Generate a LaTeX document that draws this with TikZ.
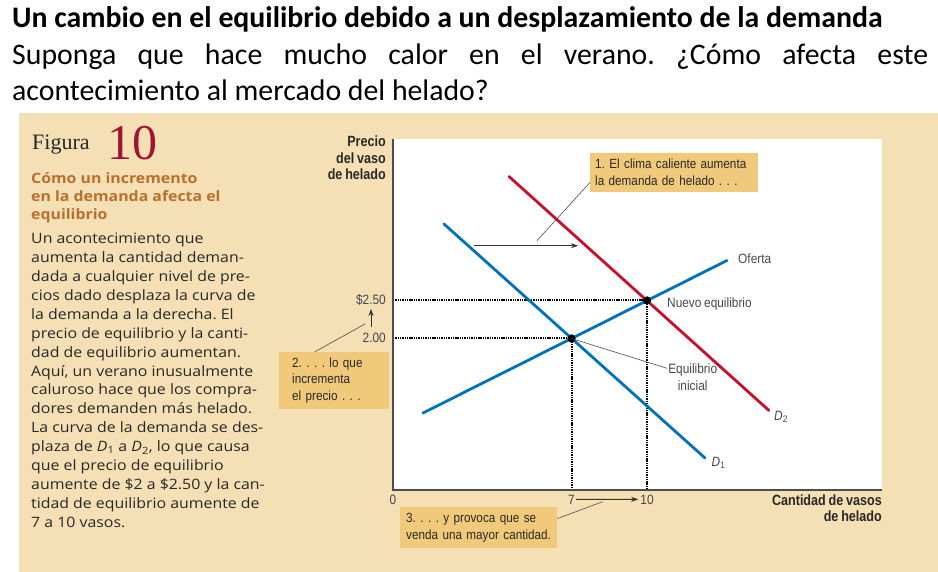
\documentclass[tikz,border=0pt]{standalone}
\usepackage{fontspec}
\setmainfont{Open Sans}[FakeStretch=1.11]
\newfontfamily\titlefont{Carlito}
\newfontfamily\serffont{Liberation Serif}
\newfontfamily\condfont{Liberation Sans}[FakeStretch=0.88, WordSpace=0.8]
\newfontfamily\condbold{Liberation Sans Bold}[FakeStretch=0.85, WordSpace=0.8]
\usetikzlibrary{arrows.meta, positioning}
\definecolor{panelbg}{RGB}{245,223,181}
\definecolor{callbg}{RGB}{240,201,122}
\definecolor{demblue}{RGB}{0,114,188}
\definecolor{demred}{RGB}{200,16,46}
\definecolor{figred}{RGB}{160,20,50}
\definecolor{headbrown}{RGB}{184,112,44}
\definecolor{txtgray}{RGB}{40,40,40}
\definecolor{lblgray}{RGB}{70,70,80}
\tikzset{
      txt/.style      = {anchor=base west, inner sep=0pt},
      titletxt/.style = {txt, font=\titlefont\fontsize{29.8}{33}\selectfont},
      bodytxt/.style  = {txt, align=left, text=txtgray,
                         font=\fontsize{14.3}{18.95}\selectfont},
      lbl/.style      = {inner sep=0pt, text=lblgray,
                         font=\condfont\fontsize{13.5}{16.7}\selectfont},
      axlbl/.style    = {lbl, anchor=base east, align=right, text=txtgray,
                         font=\condbold\fontsize{14.8}{16.7}\selectfont},
      callout/.style  = {fill=callbg, anchor=north west, align=left,
                         inner xsep=5pt, inner ysep=0pt, text=txtgray,
                         font=\condfont\fontsize{13.3}{16.7}\selectfont},
      curve/.style    = {line width=2.8pt, line cap=round},
      guide/.style    = {line width=2pt, dash pattern=on 1.4pt off 0.9pt},
      leader/.style   = {draw=black!70, line width=0.6pt},
      shiftarrow/.style = {draw=black!80, line width=0.8pt, -{Stealth[length=7pt,width=5pt]}},
      eqdot/.style    = {circle, fill=black, inner sep=0pt, minimum size=8pt}
    }
\begin{document}
\frenchspacing
\begin{tikzpicture}[x=1pt,y=-1pt]
  \useasboundingbox (0,0) rectangle (938,572);
  % Title and question
  \node[titletxt, font=\titlefont\bfseries\fontsize{29.8}{33}\selectfont] (ttl) at (12,28)
    {Un cambio en el equilibrio debido a un desplazamiento de la demanda};
  \node[titletxt] (qa) at (12,65)
    {\makebox[916pt][s]{Suponga que hace mucho calor en el verano. ¿Cómo afecta este}};
  \node[titletxt] (qb) at (12,101) {acontecimiento al mercado del helado?};
  % Panel and plot area
  \fill[panelbg] (19,113) rectangle (938,572);
  \fill[white] (393,139) rectangle (882,490);
  % Left column
  \node[txt, font=\serffont\fontsize{22}{22}\selectfont, text=txtgray] (figword) at (32,149.3) {Figura};
  \node[txt, font=\serffont\fontsize{50}{50}\selectfont, text=figred] (fignum) at (107,159.3) {10};
  \node[bodytxt, text=headbrown, font=\bfseries\fontsize{14.3}{18.2}\selectfont] (head) at (31,220)
    {Cómo un incremento\\en la demanda afecta el\\equilibrio};
  \node[bodytxt] (body) at (31,527.6)
    {Un acontecimiento que\\
     aumenta la cantidad deman-\\
     dada a cualquier nivel de pre-\\
     cios dado desplaza la curva de\\
     la demanda a la derecha. El\\
     precio de equilibrio y la canti-\\
     dad de equilibrio aumentan.\\
     Aquí, un verano inusualmente\\
     caluroso hace que los compra-\\
     dores demanden más helado.\\
     La curva de la demanda se des-\\
     plaza de \textit{D}\textsubscript{1} a \textit{D}\textsubscript{2}, lo que causa\\
     que el precio de equilibrio\\
     aumente de \$2 a \$2.50 y la can-\\
     tidad de equilibrio aumente de\\
     7 a 10 vasos.};
  % Equilibrium points
  \node[eqdot] (eqA) at (571.5,338.5) {};
  \node[eqdot] (eqB) at (647,300.5) {};
  \coordinate (pA) at (393,338.5);
  \coordinate (pB) at (393,300.5);
  \coordinate (qA) at (571.5,490);
  \coordinate (qB) at (647,490);
  % Dotted guides
  \draw[guide] (pB) -- (eqB.center) -- (qB);
  \draw[guide] (pA) -- (eqA.center) -- (qA);
  % Curves
  \draw[curve, demblue] (444,224) -- (705,458);
  \draw[curve, demred] (509,176.5) -- (769,410.5);
  \draw[curve, demblue] (423,413) -- (727,260.5);
  \node[eqdot] at (eqA) {};
  \node[eqdot] at (eqB) {};
  % Axes
  \draw[black!70, line width=1.4pt] (393,139) -- (393,490) -- (882,490);
  % Axis labels
  \node[axlbl] (ylab) at (386,180) {Precio\\del vaso\\de helado};
  \node[axlbl] (xlab) at (882,521.7) {Cantidad de vasos\\de helado};
  \node[lbl, anchor=base east] (p250) at (386,304.3) {\$2.50};
  \node[lbl, anchor=base east] (p200) at (386,342.7) {2.00};
  \node[lbl, anchor=base] (q0) at (393,504) {0};
  \node[lbl, anchor=base] (q7) at (571.5,504) {7};
  \node[lbl, anchor=base] (q10) at (647,504) {10};
  % Curve labels
  \node[lbl, anchor=base west] (oferta) at (738,264) {Oferta};
  \node[lbl, anchor=base west] (nuevo) at (667,308) {Nuevo equilibrio};
  \node[lbl, anchor=base west] (dtwo) at (774,420.7) {\textit{D}\textsubscript{2}};
  \node[lbl, anchor=base west] (done) at (711.5,466) {\textit{D}\textsubscript{1}};
  \node[lbl, align=center, anchor=base] (inicial) at (692.7,390) {Equilibrio\\inicial};
  % Callouts
  \node[callout, minimum width=168pt, minimum height=39pt, text width=158pt] (box1) at (590,152.7)
    {1. El clima caliente aumenta\\la demanda de helado . . .};
  \node[callout, inner xsep=13pt, minimum width=110pt, minimum height=57.3pt, text width=84pt] (box2) at (279,351.7)
    {2. . . . lo que\\incrementa\\el precio . . .};
  \node[callout, inner xsep=6pt, minimum width=157pt, minimum height=40.7pt, text width=145pt] (box3) at (400,507)
    {3. . . . y provoca que se\\venda una mayor cantidad.};
  % Shift arrows
  \coordinate (dleft) at (474,245.7);
  \coordinate (dright) at (578,245.7);
  \coordinate (pup) at (371,326.7);
  \coordinate (ptop) at (371,309);
  \draw[shiftarrow] (dleft) -- (dright);
  \draw[shiftarrow] ([xshift=1pt]q7.east) -- ([xshift=-2pt]q10.west);
  \draw[shiftarrow] (pup) -- (ptop);
  % Leader lines
  \coordinate (lead1) at (537,240.7);
  \coordinate (lead2) at (365,324);
  \coordinate (lead3) at (602.7,501.7);
  \draw[leader] (lead1) -- ([yshift=-10pt]box1.west);
  \draw[leader] ([xshift=36pt]box2.north west) -- (lead2);
  \draw[leader] ([yshift=9pt]box3.east) -- (lead3);
  \draw[leader] (eqA.center) -- ([xshift=-1pt,yshift=-5pt]inicial.north west);
\end{tikzpicture}
\end{document}
